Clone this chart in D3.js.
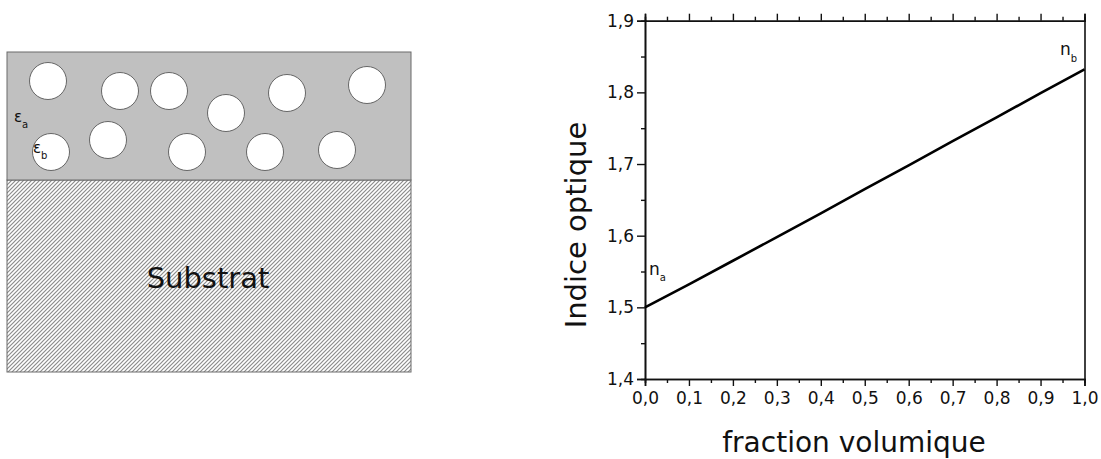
<!DOCTYPE html>
<html>
<head>
<meta charset="utf-8">
<script src="https://cdn.jsdelivr.net/npm/d3@7"></script>
<style>
  html, body { margin: 0; padding: 0; background: #fff; }
  svg { display: block; font-family: "DejaVu Sans", Verdana, sans-serif; }
</style>
</head>
<body>
<svg id="chart" width="1101" height="459"></svg>
<script>
// ---- data ----
const fraction = [0.0, 0.1, 0.2, 0.3, 0.4, 0.5, 0.6, 0.7, 0.8, 0.9, 1.0];
const indice   = [1.500, 1.532, 1.565, 1.598, 1.631, 1.665, 1.698, 1.732, 1.765, 1.799, 1.832];
const xTickValues = [0, 0.1, 0.2, 0.3, 0.4, 0.5, 0.6, 0.7, 0.8, 0.9, 1.0];
const yTickValues = [1.4, 1.5, 1.6, 1.7, 1.8, 1.9];
const xLabel = "fraction volumique";
const yLabel = "Indice optique";
const substrateLabel = "Substrat";
// inclusions in the schematic: centre (x,y)
const inclX = [48, 120, 169, 226, 287, 367, 51, 108, 187, 265, 337];
const inclY = [81, 91, 91, 113, 93, 85, 152, 140, 152, 152, 150];

const svg = d3.select("#chart");
const fmt = d => d3.format(".1f")(d).replace(".", ",");

// ---- left schematic ----
const defs = svg.append("defs");
const pat = defs.append("pattern")
  .attr("id", "hatch").attr("patternUnits", "userSpaceOnUse")
  .attr("width", 4).attr("height", 4);
pat.append("rect").attr("width", 4).attr("height", 4).attr("fill", "#fff");
pat.append("path").attr("d", "M-1,1 L1,-1 M0,4 L4,0 M3,5 L5,3")
  .attr("stroke", "#8c8c8c").attr("stroke-width", 1.2);

const sx = d3.scaleLinear().domain([0, 404]).range([7, 411]);
const sy = d3.scaleLinear().domain([0, 320]).range([52, 372]);

svg.append("rect").attr("x", sx(0)).attr("y", sy(128)).attr("width", sx(404) - sx(0))
  .attr("height", sy(320) - sy(128)).attr("fill", "url(#hatch)")
  .attr("stroke", "#6a6a6a").attr("stroke-width", 1);
svg.append("rect").attr("x", sx(0)).attr("y", sy(0)).attr("width", sx(404) - sx(0))
  .attr("height", sy(128) - sy(0)).attr("fill", "#c0c0c0")
  .attr("stroke", "#6a6a6a").attr("stroke-width", 1);

svg.append("g").selectAll("circle").data(inclX).join("circle")
  .attr("cx", (d) => sx(d - 7))
  .attr("cy", (d, i) => inclY[i])
  .attr("r", 18.5)
  .attr("fill", "#fff").attr("stroke", "#666").attr("stroke-width", 1);

const eA = svg.append("text").attr("x", 14).attr("y", 122).attr("font-size", 15).attr("fill", "#111");
eA.append("tspan").text("ε");
eA.append("tspan").attr("dy", 6).attr("font-size", 10).text("a");
const eB = svg.append("text").attr("x", 33).attr("y", 153).attr("font-size", 15).attr("fill", "#111");
eB.append("tspan").text("ε");
eB.append("tspan").attr("dy", 6).attr("font-size", 10).text("b");

svg.append("text").attr("x", 208).attr("y", 288).attr("text-anchor", "middle")
  .attr("font-size", 29).attr("fill", "#111").text(substrateLabel);

// ---- right chart ----
const x = d3.scaleLinear().domain([0, 1]).range([645, 1084.5]);
const y = d3.scaleLinear().domain([1.4, 1.9]).range([379, 20.7]);

const xMinor = d3.range(0.05, 1, 0.1);
const yMinor = d3.range(1.45, 1.9, 0.1);

// bottom axis
svg.append("g").attr("transform", `translate(0,${y(1.4)})`)
  .call(d3.axisBottom(x).tickValues(xTickValues).tickFormat(fmt).tickSize(7).tickPadding(6));
svg.append("g").attr("transform", `translate(0,${y(1.4)})`)
  .call(d3.axisBottom(x).tickValues(xMinor).tickFormat("").tickSize(4));
// top axis
svg.append("g").attr("transform", `translate(0,${y(1.9)})`)
  .call(d3.axisTop(x).tickValues(xTickValues).tickFormat("").tickSize(7));
svg.append("g").attr("transform", `translate(0,${y(1.9)})`)
  .call(d3.axisTop(x).tickValues(xMinor).tickFormat("").tickSize(4));
// left axis
svg.append("g").attr("transform", `translate(${x(0)},0)`)
  .call(d3.axisLeft(y).tickValues(yTickValues).tickFormat(fmt).tickSize(8).tickPadding(3));
svg.append("g").attr("transform", `translate(${x(0)},0)`)
  .call(d3.axisLeft(y).tickValues(yMinor).tickFormat("").tickSize(4));
// right axis (line only)
svg.append("g").attr("transform", `translate(${x(1)},0)`)
  .call(d3.axisRight(y).tickValues([]).tickSizeOuter(0));

svg.selectAll(".domain").attr("stroke", "#111").attr("stroke-width", 1.6);
svg.selectAll(".tick line").attr("stroke", "#111").attr("stroke-width", 1.4);
svg.selectAll(".tick text").attr("font-size", 17).attr("fill", "#111")
  .attr("font-family", "DejaVu Sans, Verdana, sans-serif");

// data line
svg.append("path").datum(fraction.map((f, i) => [f, indice[i]]))
  .attr("fill", "none").attr("stroke", "#000").attr("stroke-width", 2.6)
  .attr("d", d3.line().x(d => x(d[0])).y(d => y(d[1])));

// n_a, n_b
const nA = svg.append("text").attr("x", 649).attr("y", 275).attr("font-size", 17).attr("fill", "#111");
nA.append("tspan").text("n");
nA.append("tspan").attr("dy", 6).attr("font-size", 10).text("a");
const nB = svg.append("text").attr("x", 1060).attr("y", 55).attr("font-size", 17).attr("fill", "#111");
nB.append("tspan").text("n");
nB.append("tspan").attr("dy", 7).attr("font-size", 10).text("b");

// axis titles
svg.append("text").attr("x", 854).attr("y", 452).attr("text-anchor", "middle")
  .attr("font-size", 28).attr("fill", "#111").text(xLabel);
svg.append("text").attr("transform", `translate(586,225) rotate(-90)`)
  .attr("text-anchor", "middle").attr("font-size", 29).attr("fill", "#111").text(yLabel);
</script>
</body>
</html>
